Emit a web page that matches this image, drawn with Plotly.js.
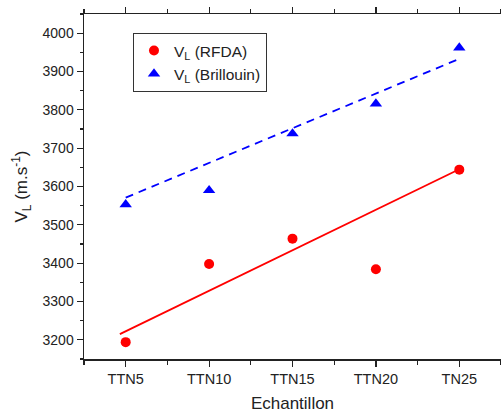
<!DOCTYPE html>
<html>
<head>
<meta charset="utf-8">
<script src="https://cdn.plot.ly/plotly-3.0.1.min.js"></script>
<style>html,body{margin:0;padding:0;background:#fff;}#chart{width:501px;height:414px;}</style>
</head>
<body>
<div id="chart"></div>
<script>
const categories = ["TTN5", "TTN10", "TTN15", "TTN20", "TN25"];
const vlRFDA = [3194, 3398, 3464, 3384, 3644];
const vlBrillouin = [3553, 3590, 3738, 3816, 3962];
const fitRFDAx = [-0.07, 4];
const fitRFDAy = [3215, 3645];
const fitBrillouinX = [0, 4];
const fitBrillouinY = [3571, 3933];
const yTicks = [3200, 3300, 3400, 3500, 3600, 3700, 3800, 3900, 4000];

const xIdx = categories.map((c, i) => i);
const FONT = 'Arial, "Liberation Sans", sans-serif';

const traces = [
  {x: xIdx, y: vlRFDA, type: 'scatter', mode: 'markers', name: 'V<sub>L</sub> (RFDA)',
   marker: {symbol: 'circle', size: 10, color: '#ff0000'}},
  {x: xIdx, y: vlBrillouin, type: 'scatter', mode: 'markers', name: 'V<sub>L</sub> (Brillouin)',
   marker: {symbol: 'triangle-up', size: 10.8, color: '#0000ff'}},
  {x: fitRFDAx, y: fitRFDAy, type: 'scatter', mode: 'lines', showlegend: false,
   line: {color: '#ff0000', width: 1.8}, hoverinfo: 'skip'},
  {x: fitBrillouinX, y: fitBrillouinY, type: 'scatter', mode: 'lines', showlegend: false,
   line: {color: '#0000ff', width: 1.8, dash: '8px,6px'}, hoverinfo: 'skip'}
];

const layout = {
  width: 501, height: 414,
  margin: {l: 84, r: 0, t: 14, b: 55},
  paper_bgcolor: '#fff', plot_bgcolor: '#fff',
  font: {family: FONT, color: '#222', size: 14},
  showlegend: true,
  legend: {x: 0.1175, y: 0.945, xanchor: 'left', yanchor: 'top',
           bordercolor: '#333', borderwidth: 1, bgcolor: '#fff',
           font: {family: FONT, size: 15.5, color: '#222'}, tracegroupgap: 0},
  xaxis: {
    range: [-0.5, 4.5], tickmode: 'array', tickvals: xIdx, ticktext: categories,
    showgrid: false, zeroline: false, showline: true, linecolor: '#222', linewidth: 1.5,
    mirror: 'ticks', ticks: 'outside', ticklen: 6, tickwidth: 1.2, tickcolor: '#222',
    minor: {dtick: 0.5, tick0: -0.5, ticks: 'outside', ticklen: 4, tickwidth: 1.2, tickcolor: '#222', showgrid: false},
    tickfont: {family: FONT, size: 14.5, color: '#222'},
    title: {text: 'Echantillon', font: {family: FONT, size: 17, color: '#222'}, standoff: 11}
  },
  yaxis: {
    range: [3150, 4050], tickmode: 'array', tickvals: yTicks,
    showgrid: false, zeroline: false, showline: true, linecolor: '#222', linewidth: 1.5,
    mirror: 'ticks', ticks: 'outside', ticklen: 6, tickwidth: 1.2, tickcolor: '#222',
    minor: {dtick: 50, tick0: 3150, ticks: 'outside', ticklen: 3, tickwidth: 1.2, tickcolor: '#222', showgrid: false},
    tickfont: {family: FONT, size: 14, color: '#222'},
    title: {text: 'V<sub>L</sub> (m.s<sup>-1</sup>)', font: {family: FONT, size: 17, color: '#222'}, standoff: 10}
  }
};

Plotly.newPlot('chart', traces, layout, {staticPlot: true, displayModeBar: false});
</script>
</body>
</html>
